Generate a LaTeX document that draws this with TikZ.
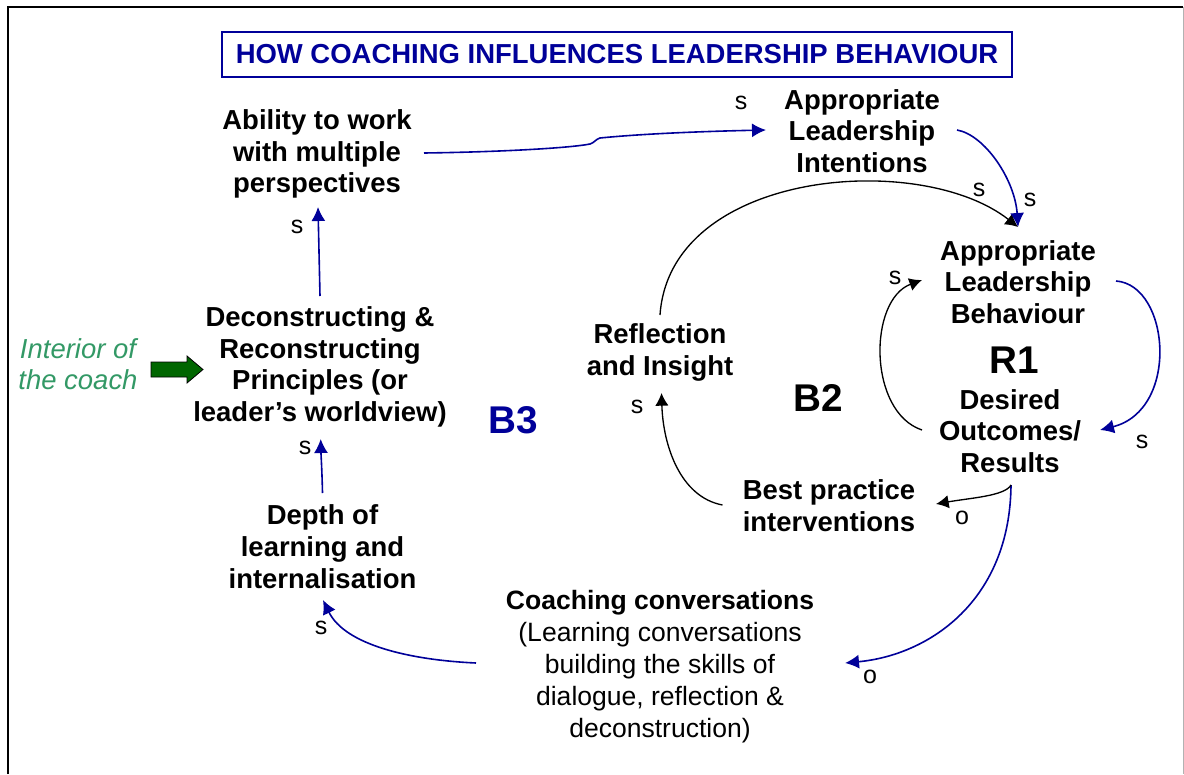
\documentclass[tikz,border=0pt]{standalone}
\usepackage{fontspec}
\setmainfont{Liberation Sans}
\usetikzlibrary{arrows.meta,calc}
\definecolor{navy}{RGB}{0,0,153}
\definecolor{coachgreen}{RGB}{51,153,102}
\definecolor{darkgr}{RGB}{0,102,0}
\begin{document}
\begin{tikzpicture}[x=0.75pt,y=-0.75pt,
  lbl/.style={font=\bfseries\fontsize{20.6}{23.8}\selectfont,align=center,inner sep=0pt},
  sgn/.style={font=\fontsize{18.75}{22}\selectfont,inner sep=0pt},
  loopname/.style={font=\bfseries\fontsize{29}{34}\selectfont,inner sep=0pt},
  bluearr/.style={draw=navy,line width=1.2pt,-{Latex[length=10.5pt,width=10.5pt]}},
  blackarr/.style={draw=black,line width=1pt,-{Latex[length=9.5pt,width=10pt]}}]
\useasboundingbox (0,0) rectangle (1184,774);
\fill[white] (0,0) rectangle (1184,774);
% frame
\draw[line width=1.5pt] (8,774) -- (8,7.5) -- (1183,7.5);
\draw[gray!60,line width=0.75pt] (1183,7.5) -- (1183,774);

% title
\node[draw=navy,line width=1.5pt,minimum width=592.5pt,minimum height=33.75pt,inner sep=0pt,
  text=navy,font=\bfseries\fontsize{20.6}{24}\selectfont] (title) at (617,54.5)
  {HOW COACHING INFLUENCES LEADERSHIP BEHAVIOUR};

% nodes
\node[lbl] (ability) at (317,154) {Ability to work\\with multiple\\perspectives};
\node[lbl] (intent) at (862,131) {Appropriate\\Leadership\\Intentions};
\node[lbl] (behav) at (1018,282) {Appropriate\\Leadership\\Behaviour};
\node[lbl] (desired) at (1010,431) {Desired\\Outcomes/\\Results};
\node[lbl] (reflect) at (660,352.5) {Reflection\\and Insight};
\node[lbl] (best) at (829,506) {Best practice\\interventions};
\node[lbl] (decon) at (320,367) {Deconstructing \&\\Reconstructing\\Principles (or\\leader’s worldview)};
\node[lbl] (depth) at (322.5,546.5) {Depth of\\learning and\\internalisation};
\node[align=center,inner sep=0pt,font=\fontsize{19.9}{24}\selectfont] (coach) at (660,667)
  {\textbf{Coaching conversations}\\(Learning conversations\\building the skills of\\dialogue, reflection \&\\deconstruction)};
\node[align=center,inner sep=0pt,text=coachgreen,font=\itshape\fontsize{20.6}{23.25}\selectfont] (interior) at (78,364.5)
  {Interior of\\the coach};

% loop names
\node[loopname] (r1) at (1014,360) {R1};
\node[loopname] (b2) at (818,398) {B2};
\node[loopname,text=navy] (b3) at (513,420) {B3};

% green block arrow
\draw[fill=darkgr,draw=black,line width=0.6pt] (151,362) -- (187,362) -- (187,356) -- (203,369.5)
  -- (187,383) -- (187,377) -- (151,377) -- cycle;

% connectors
\draw[bluearr] ($(ability)+(107,-1)$) .. controls (500,152) and (570,148) .. (590,144)
  .. controls (594,143) and (596,139) .. (600,138)
  .. controls (650,133) and (720,131) .. ($(intent)+(-96,-1)$);
\draw[bluearr] ($(decon)+(0,-71)$) -- ($(ability)+(1,53)$);
\draw[bluearr] ($(depth)+(0,-53.5)$) .. controls (322,470) and (321,455) .. ($(decon)+(0.7,72)$);
\draw[bluearr] ($(coach)+(-184,-4)$) .. controls (410,660) and (345,645) .. ($(depth)+(0.5,53.5)$);
\draw[bluearr] ($(desired)+(1,54)$) .. controls (1010,600) and (930,655) .. ($(coach)+(185,-4)$);
\draw[blackarr] ($(desired)+(1,54)$) .. controls (1005,496) and (970,498) .. ($(best)+(107,-2)$);
\draw[blackarr] ($(best)+(-106.5,-1)$) .. controls (680,497) and (663,445) .. ($(reflect)+(1.5,40.5)$);
\draw[blackarr] ($(reflect)+(0,-37.5)$) .. controls (670,170) and (920,150) .. ($(behav)+(0,-55)$);
\draw[bluearr] ($(intent)+(95,-1)$) .. controls (985,135) and (1015,180) .. ($(behav)+(0,-55)$);
\draw[bluearr] ($(behav)+(98,-1)$) .. controls (1170,285) and (1180,410) .. ($(desired)+(90,-1)$);
\draw[blackarr] ($(desired)+(-88,-1)$) .. controls (868,412) and (868,300) .. ($(behav)+(-96,-2)$);

% polarity labels
\node[sgn] (s1) at (741,103) {s};
\node[sgn] (s2) at (297,227) {s};
\node[sgn] (s3) at (305,448) {s};
\node[sgn] (s4) at (321,628) {s};
\node[sgn] (o1) at (870,677) {o};
\node[sgn] (o2) at (962,518) {o};
\node[sgn] (s5) at (637,407) {s};
\node[sgn] (s6) at (979,190) {s};
\node[sgn] (s7) at (1030,200) {s};
\node[sgn] (s8) at (1142,442) {s};
\node[sgn] (s9) at (895,278) {s};
\end{tikzpicture}
\end{document}
